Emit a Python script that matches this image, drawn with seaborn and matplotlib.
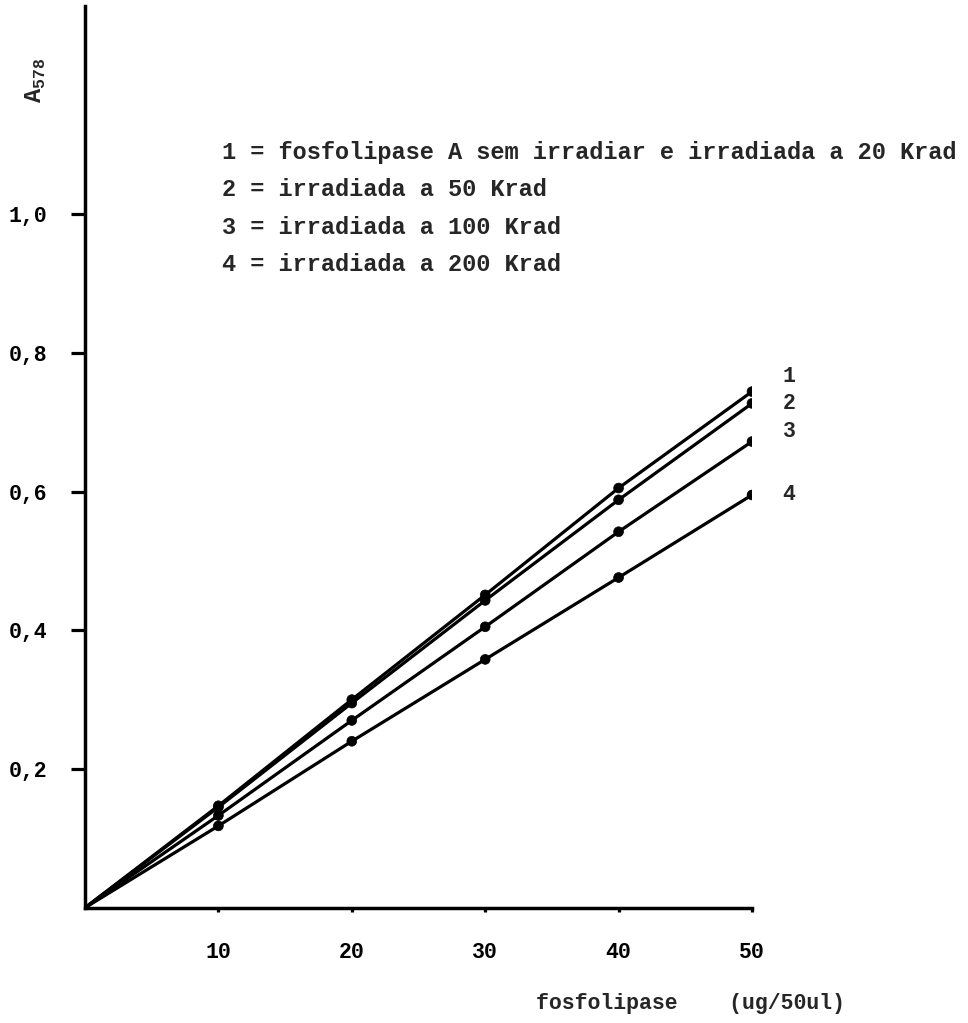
import matplotlib
matplotlib.use("Agg")
import matplotlib.pyplot as plt
import seaborn as sns
import pandas as pd

# Enzyme amount (ug / 50 ul) and absorbance at 578 nm for each irradiation dose
dose_ug = [0, 10, 20, 30, 40, 50]
curve_1 = [0.0, 0.147, 0.300, 0.451, 0.605, 0.744]
curve_2 = [0.0, 0.145, 0.295, 0.443, 0.588, 0.727]
curve_3 = [0.0, 0.133, 0.270, 0.405, 0.542, 0.672]
curve_4 = [0.0, 0.118, 0.240, 0.358, 0.476, 0.595]
curve_ids = ["1", "2", "3", "4"]
legend_lines = [
    "1 = fosfolipase A sem irradiar e irradiada a 20 Krad",
    "2 = irradiada a 50 Krad",
    "3 = irradiada a 100 Krad",
    "4 = irradiada a 200 Krad",
]
x_ticks = [10, 20, 30, 40, 50]
y_ticks = [0.2, 0.4, 0.6, 0.8, 1.0]
y_tick_labels = ["0,2", "0,4", "0,6", "0,8", "1,0"]
curve_label_y = [0.766, 0.727, 0.686, 0.595]

frames = []
for cid, vals in zip(curve_ids, [curve_1, curve_2, curve_3, curve_4]):
    frames.append(pd.DataFrame({"dose": dose_ug, "A578": vals, "curva": cid}))
df = pd.concat(frames, ignore_index=True)

sns.set_theme(style="ticks")
plt.rcParams["font.family"] = ["Liberation Mono", "DejaVu Sans Mono"]
plt.rcParams["font.weight"] = "bold"

W, H = 968, 1023
fig = plt.figure(figsize=(W / 100, H / 100), dpi=100)
x0, x1 = 85, 752
y0, ytop = 907.75, 6
ax = fig.add_axes([x0 / W, (H - y0) / H, (x1 - x0) / W, (y0 - ytop) / H])

black = {c: "black" for c in curve_ids}
sns.lineplot(data=df, x="dose", y="A578", hue="curva", palette=black,
             linewidth=2.3, legend=False, ax=ax, sort=False)
sns.scatterplot(data=df[df["dose"] > 0], x="dose", y="A578", hue="curva",
                palette=black, s=50, edgecolor="black", linewidth=0.5,
                legend=False, ax=ax, zorder=3)

ax.set_xlim(0, 50)
ax.set_ylim(0, (y0 - ytop) / 693.75)
sns.despine(ax=ax)
for side in ("left", "bottom"):
    ax.spines[side].set_linewidth(2.5)
    ax.spines[side].set_color("black")

ax.set_xticks(x_ticks)
ax.set_xticklabels([str(t) for t in x_ticks])
ax.set_yticks(y_ticks)
ax.set_yticklabels(y_tick_labels)
ax.tick_params(axis="y", direction="out", length=10, width=2.3, pad=17,
               labelsize=15.5, colors="black")
ax.tick_params(axis="x", direction="out", length=3, width=2.3, pad=22,
               labelsize=15.5, colors="black")
ax.set_xlabel("")
ax.set_ylabel("")

# curve numbers at the right end of each line
for cid, yv in zip(curve_ids, curve_label_y):
    ax.text(52.3, yv, cid, fontsize=15.5, fontweight="bold", ha="left",
            va="center", clip_on=False)

# key of the curves
for i, line in enumerate(legend_lines):
    fig.text(222 / W, 1 - (152 + i * 37.5) / H, line, fontsize=17,
             fontweight="bold", ha="left", va="center")

# rotated axis title A578
fig.text(36 / W, 1 - 80 / H, r"A$_{\mathregular{578}}$", rotation=90,
         fontsize=17, fontweight="bold", ha="center", va="center")

fig.text(690 / W, 1 - 1004 / H, "fosfolipase    (ug/50ul)", fontsize=15.5,
         fontweight="bold", ha="center", va="center")

fig.savefig("out.png", dpi=100, facecolor="white")
